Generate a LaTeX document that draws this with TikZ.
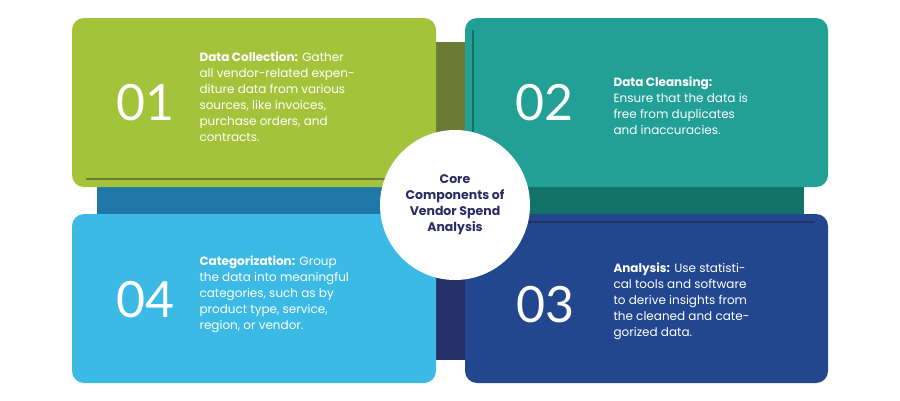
\documentclass[tikz,border=0pt]{standalone}
\usepackage{fontspec}
\setmainfont{Poppins}
\newfontfamily\numfont{Lato}
\definecolor{cgreen}{HTML}{A3C43A}
\definecolor{colive}{HTML}{6B7B34}
\definecolor{cteal}{HTML}{22A096}
\definecolor{cdteal}{HTML}{117268}
\definecolor{cblue}{HTML}{22478E}
\definecolor{cnavy}{HTML}{253068}
\definecolor{clight}{HTML}{3CBAE6}
\definecolor{cmid}{HTML}{1F78A8}
\definecolor{ctext}{HTML}{2B2D62}
\begin{document}
\begin{tikzpicture}[x=1pt,y=-1pt,
  card/.style={rounded corners=12pt},
  num/.style={text=white,font=\numfont\fontsize{50}{50}\selectfont,anchor=center},
  desc/.style={text=white,font=\fontsize{12}{16}\selectfont,align=left,anchor=west}]
\fill[white] (0,0) rectangle (900,400);
\useasboundingbox (0,0) rectangle (900,400);
% back strips
\fill[colive] (430,42) rectangle (475,185);
\fill[cmid] (97,178) rectangle (440,216);
\fill[cdteal] (513,180) rectangle (804,222);
\fill[cnavy] (426,230) rectangle (470,360);
% cards
\fill[cgreen,card] (72,18) rectangle (436,187);
\draw[colive,line width=2pt] (86,179) -- (430,179);
\fill[cteal,card] (465,18) rectangle (828,187);
\draw[cdteal,line width=2pt] (473,30) -- (473,180);
\fill[clight,card] (72,214) rectangle (436,383);
\fill[cblue,card] (465,214) rectangle (828,383);
\draw[cnavy,line width=2pt] (470,222) -- (815,222);
% numbers
\node[num] (n1) at (145,103) {01};
\node[num] (n2) at (544,103) {02};
\node[num] (n3) at (545,305) {03};
\node[num] (n4) at (145,300) {04};
% texts
\node[desc] (t1) at (196,97) {\textbf{Data Collection:} Gather\\all vendor-related expen-\\diture data from various\\sources, like invoices,\\purchase orders, and\\contracts.};
\node[desc] (t2) at (610,106) {\textbf{Data Cleansing:}\\Ensure that the data is\\free from duplicates\\and inaccuracies.};
\node[desc] (t3) at (610,301) {\textbf{Analysis:} Use statisti-\\cal tools and software\\to derive insights from\\the cleaned and cate-\\gorized data.};
\node[desc] (t4) at (196,294) {\textbf{Categorization:} Group\\the data into meaningful\\categories, such as by\\product type, service,\\region, or vendor.};
% circle
\node[circle,fill=white,minimum size=150pt,inner sep=0pt] (c) at (455,205) {};
\node[text=ctext,font=\bfseries\fontsize{12.5}{16}\selectfont,align=center] (ct) at (455,205) {Core\\Components of\\Vendor Spend\\Analysis};
\end{tikzpicture}
\end{document}
